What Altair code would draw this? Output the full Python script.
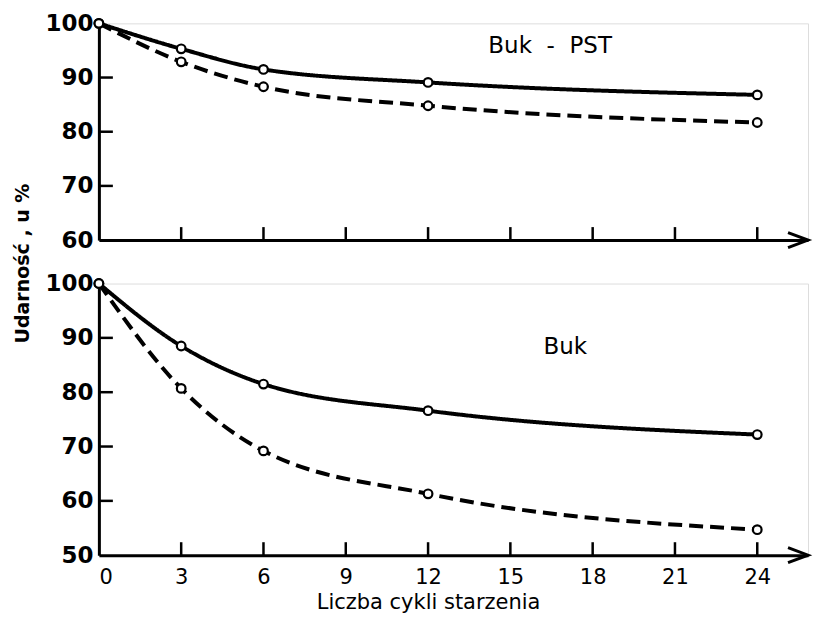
import altair as alt
import pandas as pd

# ---- data ----
cycles = [0, 3, 6, 12, 24]
pst_solid = [100, 95.3, 91.5, 89.1, 86.8]
pst_dashed = [100, 92.9, 88.3, 84.8, 81.7]
buk_solid = [100, 88.5, 81.5, 76.6, 72.2]
buk_dashed = [100, 80.7, 69.2, 61.3, 54.7]
x_tick_labels = [0, 3, 6, 9, 12, 15, 18, 21, 24]
x_inner_ticks = [3, 6, 9, 12, 15, 18, 21, 24]
top_y_labels = [60, 70, 80, 90, 100]
top_y_inner = [70, 80, 90]
bot_y_labels = [50, 60, 70, 80, 90, 100]
bot_y_inner = [60, 70, 80, 90]
X_MAX = 25.85

FONT = "DejaVu Sans"
W = 710


def panel(solid, dashed, ymin, ylabels, yinner, height, label, lx, ly, bottom):
    df = pd.DataFrame({"x": cycles * 2, "y": solid + dashed,
                       "s": ["solid"] * len(cycles) + ["dashed"] * len(cycles)})
    xs = alt.Scale(domain=[0, X_MAX], nice=False, zero=False)
    ys = alt.Scale(domain=[ymin, 100], nice=False, zero=False)

    if bottom:
        xaxis = alt.Axis(values=x_tick_labels, ticks=False, grid=False,
                         labelFontSize=21, labelFont=FONT, labelColor="black",
                         labelPadding=11, domainWidth=3, domainColor="black",
                         title="Liczba cykli starzenia", titleFont=FONT,
                         titleFontSize=21, titleFontWeight="normal",
                         titleColor="black", titleX=12 * W / X_MAX,
                         titleAlign="center", titlePadding=4)
        yaxis = alt.Axis(values=ylabels, ticks=False, grid=False,
                         labelFontSize=23, labelFont=FONT, labelFontWeight="bold",
                         labelColor="black", labelPadding=6, domainWidth=3,
                         domainColor="black", title=None)
    else:
        xaxis = alt.Axis(values=x_tick_labels, ticks=False, labels=False,
                         grid=False, domainWidth=3, domainColor="black", title=None)
        yaxis = alt.Axis(values=ylabels, ticks=False, grid=False,
                         labelFontSize=23, labelFont=FONT, labelFontWeight="bold",
                         labelColor="black", labelPadding=6, domainWidth=3,
                         domainColor="black",
                         title="Udarność , u %", titleFont=FONT, titleFontSize=19,
                         titleFontWeight="bold", titleColor="black",
                         titleAngle=270, titleX=-76, titleY=height + 23,
                         titleAlign="center", titleBaseline="middle")

    base = alt.Chart(df)
    lines = base.mark_line(interpolate="monotone", color="black",
                           strokeWidth=4).encode(
        x=alt.X("x:Q", scale=xs, axis=xaxis),
        y=alt.Y("y:Q", scale=ys, axis=yaxis),
        strokeDash=alt.StrokeDash("s:N", scale=alt.Scale(
            domain=["solid", "dashed"], range=[[1, 0], [14, 7]]), legend=None),
        detail="s:N",
    )
    pts = base.mark_point(shape="circle", filled=True, color="white",
                          stroke="black", strokeWidth=2.2, size=75,
                          opacity=1).encode(
        x=alt.X("x:Q", scale=xs), y=alt.Y("y:Q", scale=ys))

    xt = alt.Chart(pd.DataFrame({"x": x_inner_ticks})).mark_rule(
        color="black", strokeWidth=2.5).encode(
        x=alt.X("x:Q", scale=xs), y=alt.value(height), y2=alt.value(height - 13))
    yt = alt.Chart(pd.DataFrame({"y": yinner})).mark_rule(
        color="black", strokeWidth=2.5).encode(
        y=alt.Y("y:Q", scale=ys), x=alt.value(0), x2=alt.value(14))

    arrow = alt.Chart(pd.DataFrame({"x": [X_MAX], "y": [ymin]})).mark_point(
        shape="M-2,-0.75L0,0L-2,0.75", filled=False, stroke="black",
        strokeWidth=3, size=400, opacity=1).encode(
        x=alt.X("x:Q", scale=xs), y=alt.Y("y:Q", scale=ys))

    txt = alt.Chart(pd.DataFrame({"x": [lx], "y": [ly], "t": [label]})).mark_text(
        font=FONT, fontSize=23, color="black", align="center",
        baseline="middle").encode(
        x=alt.X("x:Q", scale=xs), y=alt.Y("y:Q", scale=ys), text="t:N")

    return alt.layer(lines, pts, xt, yt, arrow, txt).properties(
        width=W, height=height)


top = panel(pst_solid, pst_dashed, 60, top_y_labels, top_y_inner, 217,
            "Buk\u00a0\u00a0-\u00a0\u00a0PST", 16.45, 95.9, False)
bot = panel(buk_solid, buk_dashed, 50, bot_y_labels, bot_y_inner, 272,
            "Buk", 17.0, 88.3, True)

chart = alt.vconcat(top, bot, spacing=43.5, bounds="flush").properties(
    padding={"left": 5, "top": 3, "right": 0, "bottom": 0}
).configure_view(stroke=None).configure(background="white")

chart.save("out.html", embed_options={"renderer": "svg", "actions": False})
